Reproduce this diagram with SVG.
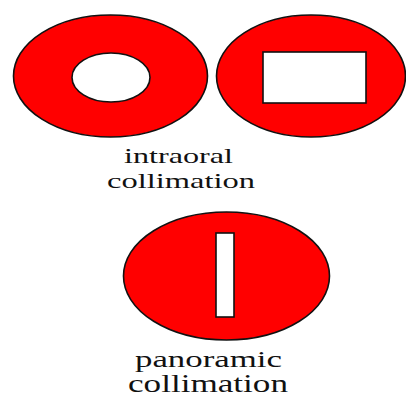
<svg xmlns="http://www.w3.org/2000/svg" width="406" height="396" viewBox="0 0 406 396">
<style>
.disc{fill:#ff0000;stroke:#111;stroke-width:1.6}
.hole{fill:#fff;stroke:#111;stroke-width:1.6}
.lbl{font-family:"Liberation Serif","Times New Roman",serif;fill:#111}
</style>
<rect width="406" height="396" fill="#fff"/>
<g id="intraoral-round">
<ellipse class="disc" cx="110.5" cy="76" rx="97" ry="61"/>
<ellipse class="hole" cx="111" cy="77.5" rx="39" ry="24.5"/>
</g>
<g id="intraoral-rect">
<ellipse class="disc" cx="311" cy="76" rx="94.5" ry="61"/>
<rect class="hole" x="263" y="52" width="103" height="51"/>
</g>
<g id="intraoral-label">
<text class="lbl" x="124" y="163" font-size="22" textLength="109" lengthAdjust="spacingAndGlyphs">intraoral</text>
<text class="lbl" x="107" y="188" font-size="22" textLength="148" lengthAdjust="spacingAndGlyphs">collimation</text>
</g>
<g id="panoramic">
<ellipse class="disc" cx="226.5" cy="276" rx="103" ry="64"/>
<rect class="hole" x="216" y="233" width="18" height="84"/>
</g>
<g id="panoramic-label">
<text class="lbl" x="135" y="367" font-size="24" textLength="147" lengthAdjust="spacingAndGlyphs">panoramic</text>
<text class="lbl" x="128" y="392" font-size="25" textLength="160" lengthAdjust="spacingAndGlyphs">collimation</text>
</g>
</svg>
